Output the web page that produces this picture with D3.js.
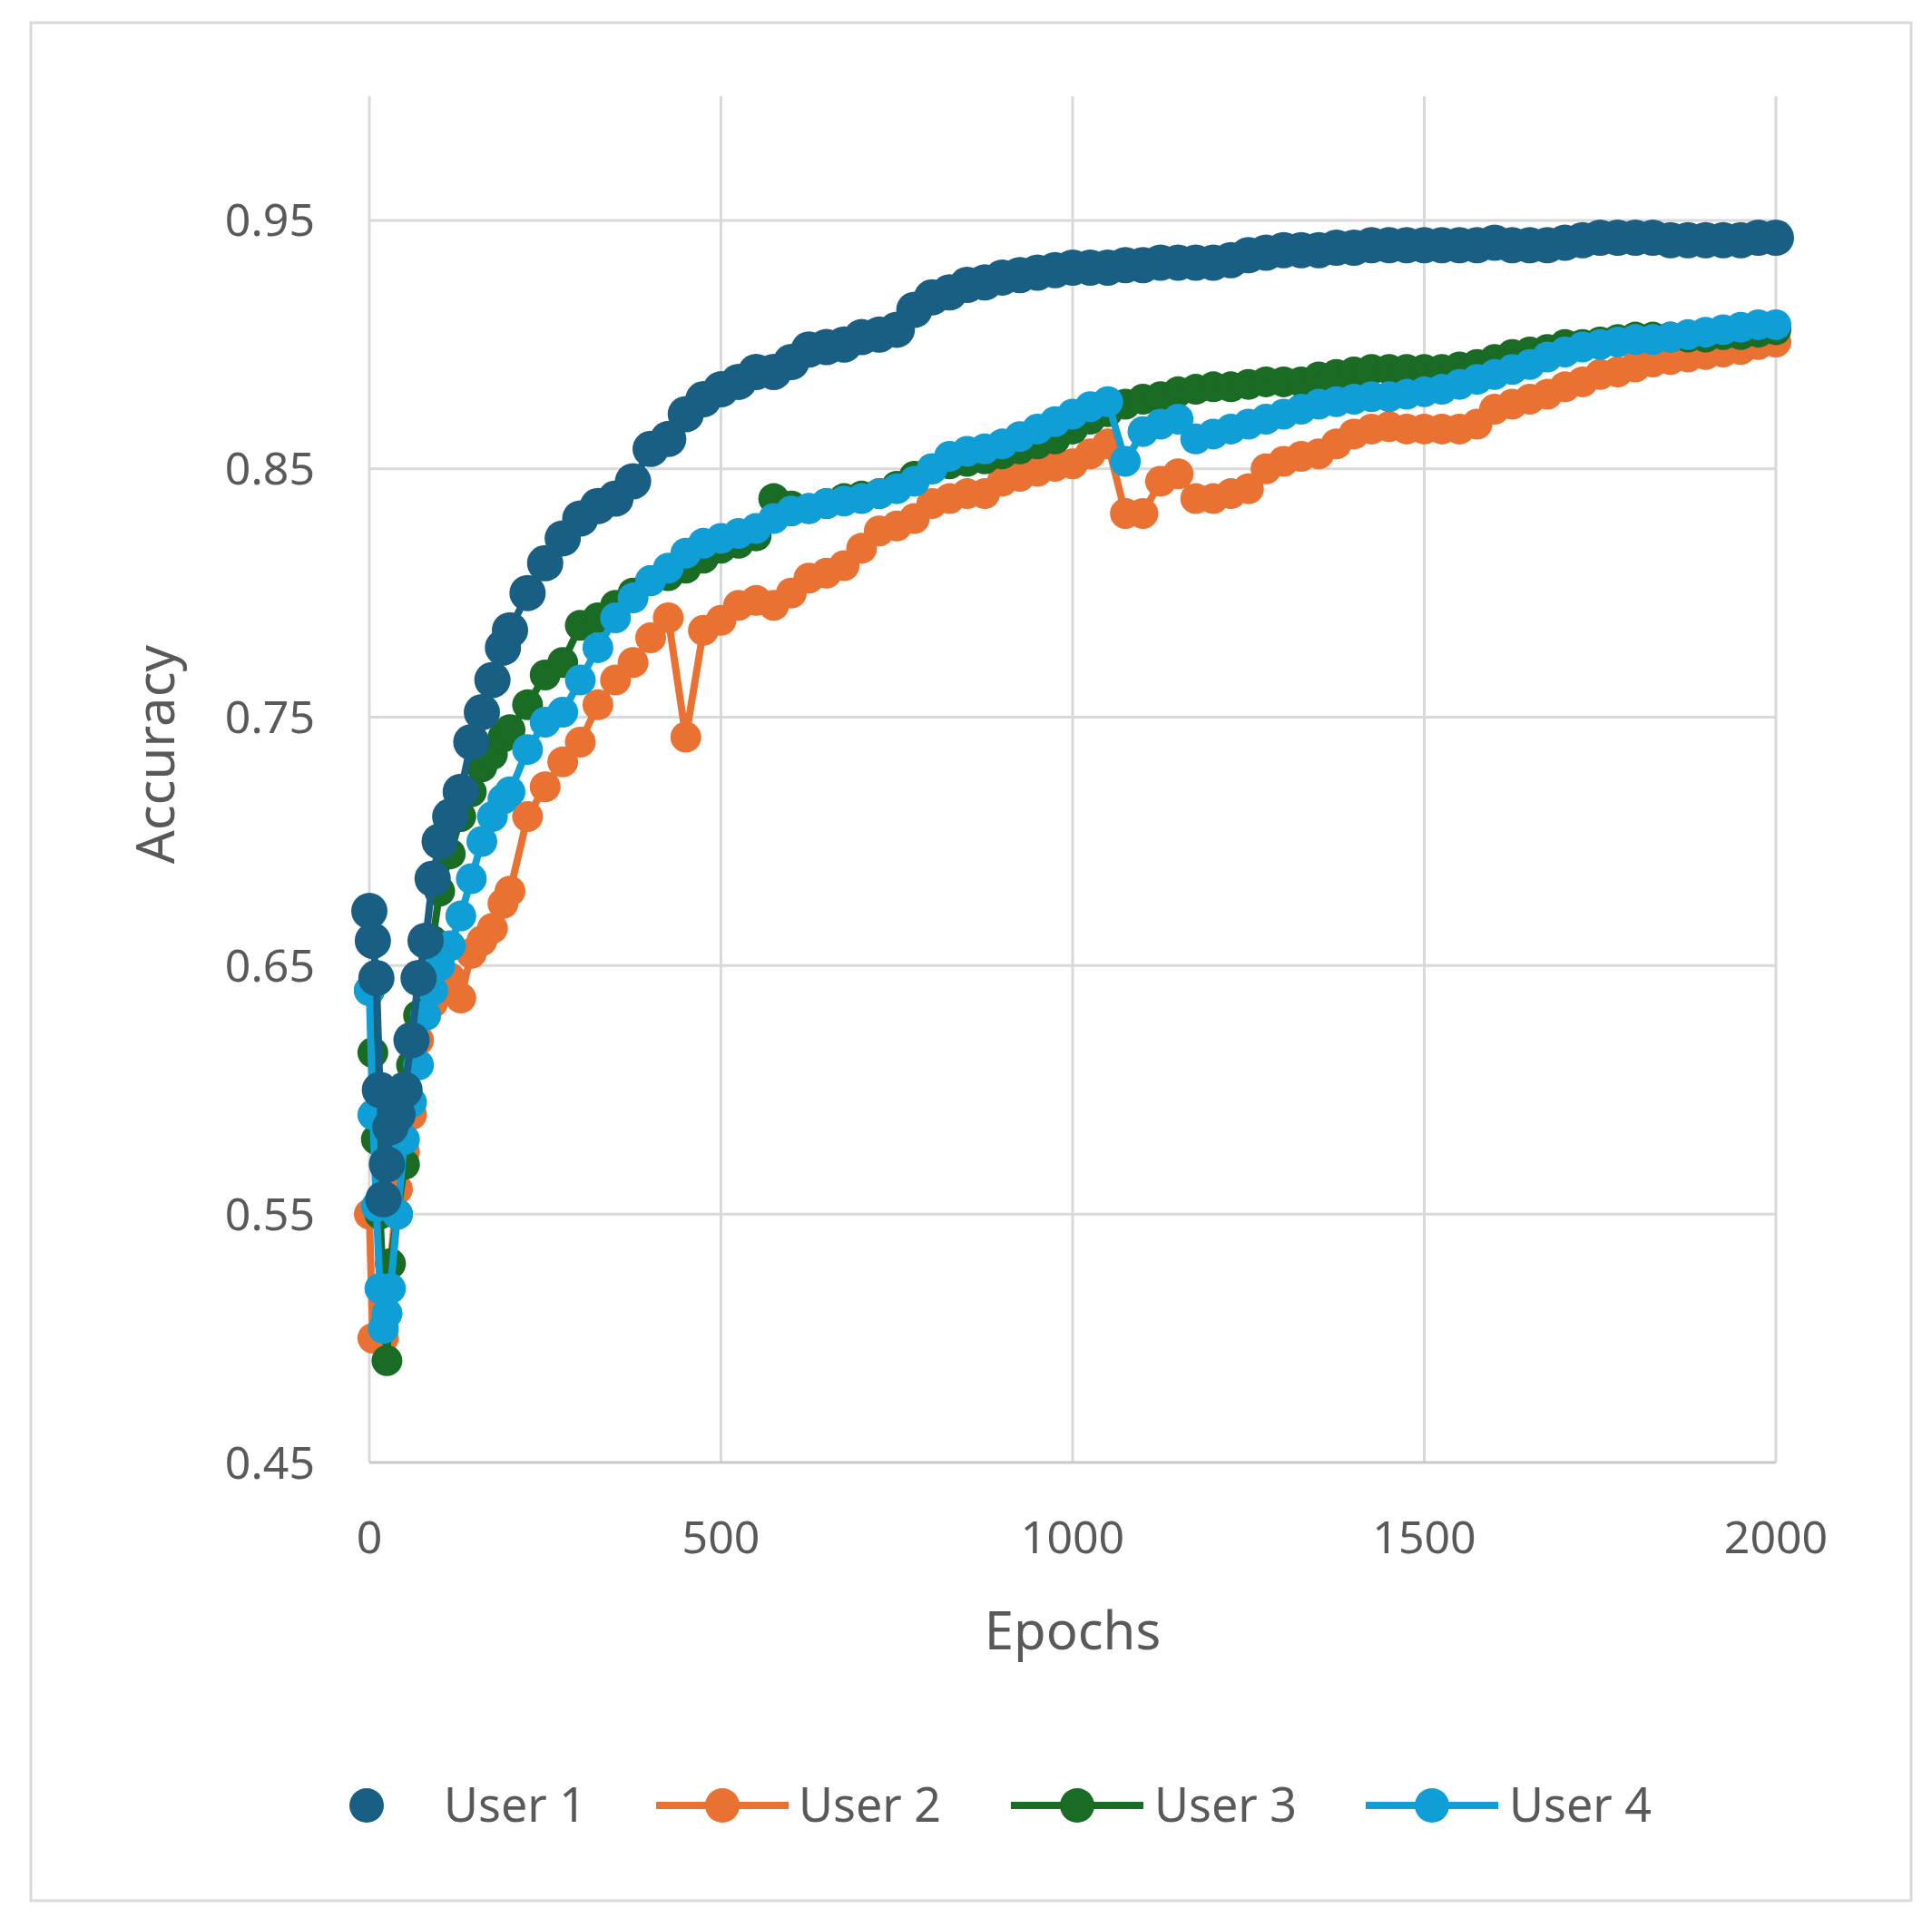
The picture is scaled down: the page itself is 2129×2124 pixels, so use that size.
<!DOCTYPE html>
<html>
<head>
<meta charset="utf-8">
<script src="https://cdn.jsdelivr.net/npm/d3@7"></script>
<style>
  body { margin: 0; background: #fff; }
  text { font-family: "Noto Sans", "Open Sans", sans-serif; fill: #595959; }
</style>
</head>
<body>
<script>
const epochs = [0, 5, 10, 15, 20, 25, 30, 40, 50, 60, 70, 80, 90, 100, 115, 130, 145, 160, 175, 190,
    200, 225, 250, 275, 300, 325, 350, 375, 400, 425, 450, 475, 500, 525, 550, 575, 600, 625, 650, 675,
    700, 725, 750, 775, 800, 825, 850, 875, 900, 925, 950, 975, 1000, 1025, 1050, 1075, 1100, 1125, 1150, 1175,
    1200, 1225, 1250, 1275, 1300, 1325, 1350, 1375, 1400, 1425, 1450, 1475, 1500, 1525, 1550, 1575, 1600, 1625, 1650, 1675,
    1700, 1725, 1750, 1775, 1800, 1825, 1850, 1875, 1900, 1925, 1950, 1975, 2000];

const user1 = [0.672, 0.66, 0.645, 0.60, 0.556, 0.57, 0.585, 0.59, 0.60, 0.62, 0.645, 0.66, 0.685, 0.70, 0.71, 0.72, 0.74, 0.752, 0.765, 0.778,
    0.785, 0.80, 0.812, 0.822, 0.83, 0.835, 0.838, 0.845, 0.858, 0.862, 0.872, 0.878, 0.882, 0.885, 0.889, 0.889, 0.893, 0.898, 0.899, 0.900,
    0.903, 0.904, 0.906, 0.914, 0.919, 0.921, 0.924, 0.925, 0.927, 0.928, 0.929, 0.930, 0.931, 0.931, 0.931, 0.932, 0.932, 0.933, 0.933, 0.933,
    0.933, 0.934, 0.936, 0.937, 0.938, 0.938, 0.938, 0.939, 0.939, 0.940, 0.940, 0.940, 0.940, 0.940, 0.940, 0.940, 0.941, 0.940, 0.940, 0.940,
    0.941, 0.942, 0.943, 0.943, 0.943, 0.943, 0.942, 0.942, 0.942, 0.942, 0.942, 0.943, 0.943];

const user2 = [0.55, 0.50, 0.50, 0.50, 0.50, 0.51, 0.53, 0.56, 0.575, 0.59, 0.62, 0.63, 0.635, 0.64, 0.645, 0.637, 0.655, 0.66, 0.665, 0.675,
    0.68, 0.71, 0.722, 0.732, 0.74, 0.755, 0.765, 0.772, 0.782, 0.79, 0.742, 0.785, 0.789, 0.795, 0.797, 0.795, 0.800, 0.806, 0.808, 0.811,
    0.818, 0.825, 0.827, 0.830, 0.836, 0.838, 0.840, 0.840, 0.845, 0.847, 0.849, 0.851, 0.852, 0.856, 0.860, 0.832, 0.832, 0.845, 0.848, 0.838,
    0.838, 0.840, 0.842, 0.850, 0.853, 0.855, 0.856, 0.860, 0.864, 0.866, 0.867, 0.866, 0.866, 0.866, 0.866, 0.868, 0.874, 0.876, 0.878, 0.880,
    0.883, 0.885, 0.888, 0.889, 0.891, 0.893, 0.894, 0.895, 0.896, 0.897, 0.898, 0.900, 0.901];

const user3 = [0.64, 0.615, 0.58, 0.55, 0.52, 0.491, 0.53, 0.55, 0.57, 0.61, 0.63, 0.645, 0.66, 0.68, 0.695, 0.71, 0.72, 0.73, 0.735, 0.742,
    0.745, 0.755, 0.767, 0.772, 0.787, 0.79, 0.795, 0.80, 0.805, 0.807, 0.81, 0.814, 0.818, 0.82, 0.823, 0.838, 0.835, 0.834, 0.836, 0.838,
    0.839, 0.840, 0.843, 0.847, 0.850, 0.852, 0.853, 0.854, 0.856, 0.858, 0.860, 0.862, 0.866, 0.870, 0.873, 0.876, 0.878, 0.879, 0.881, 0.882,
    0.883, 0.883, 0.884, 0.885, 0.885, 0.885, 0.887, 0.888, 0.889, 0.890, 0.890, 0.890, 0.890, 0.890, 0.891, 0.892, 0.894, 0.896, 0.897, 0.898,
    0.900, 0.900, 0.901, 0.902, 0.903, 0.903, 0.903, 0.903, 0.903, 0.904, 0.904, 0.905, 0.906];

const user4 = [0.64, 0.59, 0.553, 0.52, 0.504, 0.51, 0.52, 0.55, 0.58, 0.595, 0.61, 0.63, 0.64, 0.65, 0.658, 0.67, 0.685, 0.70, 0.71, 0.717,
    0.72, 0.737, 0.748, 0.752, 0.765, 0.778, 0.79, 0.798, 0.805, 0.81, 0.816, 0.82, 0.822, 0.824, 0.826, 0.83, 0.833, 0.834, 0.836, 0.837,
    0.838, 0.840, 0.842, 0.845, 0.850, 0.855, 0.857, 0.858, 0.860, 0.863, 0.866, 0.869, 0.872, 0.875, 0.877, 0.853, 0.865, 0.868, 0.870, 0.862,
    0.864, 0.866, 0.868, 0.870, 0.872, 0.874, 0.876, 0.877, 0.878, 0.879, 0.879, 0.880, 0.881, 0.882, 0.884, 0.886, 0.888, 0.890, 0.892, 0.895,
    0.897, 0.899, 0.900, 0.901, 0.902, 0.902, 0.903, 0.904, 0.905, 0.906, 0.907, 0.908, 0.908];

const names = ["User 1", "User 2", "User 3", "User 4"];
const colors = ["#185f83", "#e97132", "#1a6b24", "#0f9ed5"];
const xTicks = [0, 500, 1000, 1500, 2000];
const yTicks = [0.45, 0.55, 0.65, 0.75, 0.85, 0.95];

const width = 2129, height = 2124;
const svg = d3.select("body").append("svg")
    .attr("width", width)
    .attr("height", height);

// outer frame
svg.append("rect")
    .attr("x", 34).attr("y", 25)
    .attr("width", 2072).attr("height", 2070)
    .attr("fill", "#fff").attr("stroke", "#d9d9d9").attr("stroke-width", 3);

let x = d3.scaleLinear().domain([0, 2000]).range([407, 1957]);
let y = d3.scaleLinear().domain([0.45, 1.0]).range([1612, 106]);

// gridlines
svg.append("g").selectAll("line").data(yTicks.slice(1)).enter().append("line")
    .attr("x1", x(0)).attr("x2", x(2000))
    .attr("y1", d => y(d)).attr("y2", d => y(d))
    .attr("stroke", "#d9d9d9").attr("stroke-width", 3);
svg.append("g").selectAll("line").data(xTicks).enter().append("line")
    .attr("x1", d => x(d)).attr("x2", d => x(d))
    .attr("y1", y(0.45)).attr("y2", y(1.0))
    .attr("stroke", "#d9d9d9").attr("stroke-width", 3);
svg.append("line")
    .attr("x1", x(0)).attr("x2", x(2000))
    .attr("y1", y(0.45)).attr("y2", y(0.45))
    .attr("stroke", "#c8c8c8").attr("stroke-width", 3);

// tick labels
svg.append("g").selectAll("text").data(yTicks).enter().append("text")
    .attr("x", 347).attr("y", d => y(d)).attr("dy", "0.35em")
    .attr("text-anchor", "end").attr("font-size", 50)
    .text(d => d3.format(".2f")(d));
svg.append("g").selectAll("text").data(xTicks).enter().append("text")
    .attr("x", d => x(d)).attr("y", 1694).attr("dy", "0.35em")
    .attr("text-anchor", "middle").attr("font-size", 50)
    .text(d => d);

// axis titles
svg.append("text")
    .attr("transform", "translate(172," + y(0.735) + ") rotate(-90)")
    .attr("text-anchor", "middle").attr("dy", "0.35em").attr("font-size", 58)
    .text("Accuracy");
svg.append("text")
    .attr("x", x(1000)).attr("y", 1798).attr("dy", "0.35em")
    .attr("text-anchor", "middle").attr("font-size", 58)
    .text("Epochs");

// series
const series = [
    { ys: user1, line: false, r: 20 },
    { ys: user2, line: true, r: 17 },
    { ys: user3, line: true, r: 17 },
    { ys: user4, line: true, r: 17 }
];
const lineGen = d3.line().x(d => x(d[0])).y(d => y(d[1]));
const drawOrder = [1, 2, 3, 0];
drawOrder.forEach(i => {
    let s = series[i];
    let n = Math.min(epochs.length, s.ys.length);
    let pts = epochs.slice(0, n).map((e, j) => [e, s.ys[j]]);
    let g = svg.append("g");
    g.append("path").datum(pts)
        .attr("d", lineGen)
        .attr("fill", "none").attr("stroke", colors[i])
        .attr("stroke-width", 8).attr("stroke-linejoin", "round");
    g.selectAll("circle").data(pts).enter().append("circle")
        .attr("cx", d => x(d[0])).attr("cy", d => y(d[1]))
        .attr("r", s.r).attr("fill", colors[i]);
});

// legend
const legendY = 1990;
const legendX = [404, 796, 1187, 1578];
const textX = [489, 880, 1272, 1663];
names.forEach((n, i) => {
    let g = svg.append("g");
    if (series[i].line) {
        g.append("line")
            .attr("x1", legendX[i] - 73).attr("x2", legendX[i] + 73)
            .attr("y1", legendY).attr("y2", legendY)
            .attr("stroke", colors[i]).attr("stroke-width", 8);
    }
    g.append("circle").attr("cx", legendX[i]).attr("cy", legendY)
        .attr("r", 19).attr("fill", colors[i]);
    g.append("text").attr("x", textX[i]).attr("y", legendY).attr("dy", "0.35em")
        .attr("font-size", 52).text(n);
});
</script>
</body>
</html>
